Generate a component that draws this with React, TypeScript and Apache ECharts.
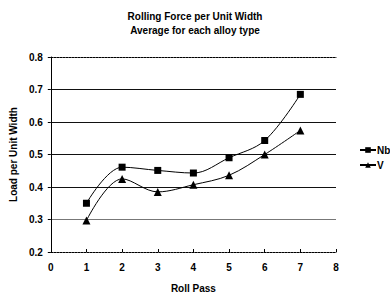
import React, { useEffect, useRef } from "react";
import * as echarts from "echarts";

const passes = [1, 2, 3, 4, 5, 6, 7];
const nbValues = [0.35, 0.461, 0.451, 0.443, 0.49, 0.543, 0.685];
const vValues = [0.297, 0.425, 0.385, 0.407, 0.436, 0.5, 0.574];
const titleLines = ["Rolling Force per Unit Width", "Average for each alloy type"];
const seriesNames = ["Nb", "V"];

const FONT = "'Liberation Sans', Arial, sans-serif";

export default function App() {
  const ref = useRef<HTMLDivElement>(null);
  useEffect(() => {
    if (!ref.current) return;
    const chart = echarts.init(ref.current, null, { renderer: "svg" });
    const label = { color: "#000", fontFamily: FONT, fontWeight: "bold" as const, fontSize: 10 };
    chart.setOption({
      animation: false,
      backgroundColor: "#fff",
      title: {
        text: titleLines.join("\n"),
        left: 195,
        textAlign: "center",
        top: 9,
        padding: 0,
        textStyle: { fontFamily: FONT, fontWeight: "bold", fontSize: 10, color: "#000", lineHeight: 14 },
      },
      legend: {
        orient: "vertical",
        left: 359,
        top: 145,
        padding: 0,
        itemWidth: 16,
        itemHeight: 7,
        itemGap: 5,
        textStyle: { fontFamily: FONT, fontWeight: "bold", fontSize: 10, color: "#000", padding: [0, 0, 0, -4] },
        data: seriesNames,
      },
      grid: { left: 48, right: 54, top: 57, bottom: 43, containLabel: false },
      xAxis: [
        {
          type: "value",
          min: 0,
          max: 8,
          interval: 1,
          name: "Roll Pass",
          nameLocation: "middle",
          nameGap: 31,
          nameTextStyle: { ...label },
          axisLine: { lineStyle: { color: "#000", type: [2, 1], width: 1 } },
          axisTick: { show: true, inside: true, length: 3, lineStyle: { color: "#000" } },
          axisLabel: { ...label, margin: 10 },
          splitLine: { show: false },
        },
        {
          type: "value",
          position: "top",
          min: 0,
          max: 8,
          interval: 1,
          axisLine: { show: true, lineStyle: { color: "#000", type: [2, 1], width: 1 } },
          axisTick: { show: false },
          axisLabel: { show: false },
          splitLine: { show: false },
        },
      ],
      yAxis: [
        {
          type: "value",
          min: 0.2,
          max: 0.8,
          interval: 0.1,
          name: "Load per Unit Width",
          nameLocation: "middle",
          nameGap: 30,
          nameTextStyle: { ...label },
          axisLine: { show: true, lineStyle: { color: "#000", width: 1 } },
          axisTick: { show: true, length: 3, lineStyle: { color: "#000" } },
          axisLabel: { ...label, margin: 8, formatter: (v: number) => v.toFixed(1) },
          splitLine: {
            show: true,
            lineStyle: {
              color: ["rgba(0,0,0,0)", "#777", "#111", "#111", "#111", "#111", "rgba(0,0,0,0)"],
              width: 1,
            },
          },
        },
        {
          type: "value",
          position: "right",
          min: 0.2,
          max: 0.8,
          interval: 0.1,
          axisLine: { show: true, lineStyle: { color: "#000", type: [2, 1, 1, 1], width: 1 } },
          axisTick: { show: false },
          axisLabel: { show: false },
          splitLine: { show: false },
        },
      ],
      series: [
        {
          name: seriesNames[0],
          type: "line",
          smooth: 0.35,
          data: passes.map((p, i) => [p, nbValues[i]]),
          symbol: "rect",
          symbolSize: 7,
          itemStyle: { color: "#000" },
          lineStyle: { color: "#000", width: 1 },
        },
        {
          name: seriesNames[1],
          type: "line",
          smooth: 0.35,
          data: passes.map((p, i) => [p, vValues[i]]),
          symbol: "triangle",
          symbolSize: 8,
          itemStyle: { color: "#000" },
          lineStyle: { color: "#000", width: 1 },
        },
      ],
    });
    return () => chart.dispose();
  }, []);
  return <div ref={ref} style={{ width: 390, height: 298, position: "absolute", left: 0, top: 0 }} />;
}
